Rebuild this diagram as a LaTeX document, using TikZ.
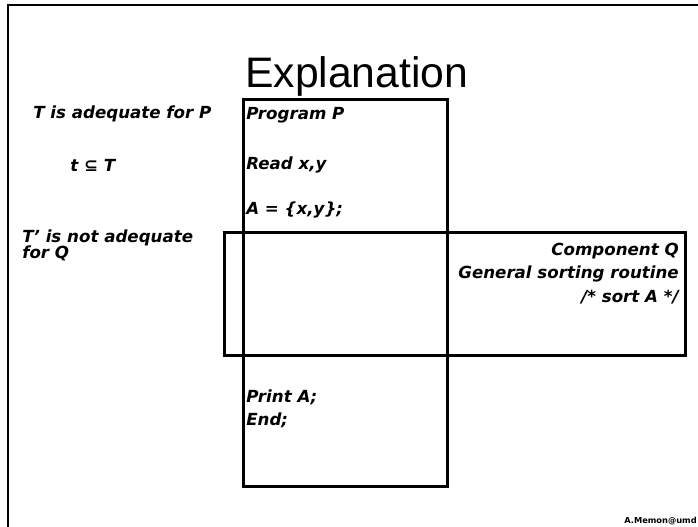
\documentclass[tikz,border=0pt]{standalone}
\usepackage{fontspec}
\setmainfont{Liberation Sans}
\newfontfamily\comicfont{DejaVu Sans}
\begin{document}
\begin{tikzpicture}[x=0.75pt,y=-0.75pt,
  boxstyle/.style={draw=black,line width=2.25pt,inner sep=0pt,outer sep=0pt},
  body/.style={inner sep=0pt,font=\comicfont\bfseries\itshape\fontsize{12.5}{15}\selectfont},
  titlestyle/.style={inner sep=0pt,font=\fontsize{32}{38}\selectfont}]
\useasboundingbox (0,0) rectangle (698,526);
% outer frame (cropped slide border)
\coordinate (frameTL) at (7.8,5);
\coordinate (frameTR) at (700,5);
\coordinate (frameBL) at (7.8,528);
\draw[line width=1.2pt] (frameTR) -- (frameTL) -- (frameBL);
% title
\node[titlestyle,anchor=base west] (title) at (245,87) {Explanation};
% boxes
\node[boxstyle,minimum width=152.8pt,minimum height=290.6pt] (P) at (345.5,292.75) {};
\node[boxstyle,minimum width=345.75pt,minimum height=92.5pt] (Q) at (454.5,294.15) {};
% left texts
\node[body,anchor=base west] (adeq) at (33,118) {T is adequate for P};
\node[body,anchor=base west] (subset) at (70,171) {t \comicfont\bfseries\upshape ⊆\itshape{} T};
\node[body,anchor=base west] (notadeq) at (22,242) {T’ is not adequate};
\node[body,anchor=base west] (forQ) at (22,258) {for Q};
% program P texts
\node[body,anchor=base west] (prog) at (246,119) {Program P};
\node[body,anchor=base west] (read) at (246,169) {Read x,y};
\node[body,anchor=base west] (assign) at (246,214) {A = \{x,y\};};
\node[body,anchor=base west] (print) at (246,402) {Print A;};
\node[body,anchor=base west] (endl) at (246,425) {End;};
% component Q texts
\node[body,anchor=base east] (comp) at (679,255) {Component Q};
\node[body,anchor=base east] (gen) at (679,278) {General sorting routine};
\node[body,anchor=base east] (sortA) at (679,302) {/* sort A */};
% footer
\node[inner sep=0pt,anchor=base east,font=\comicfont\bfseries\fontsize{6.2}{7}\selectfont] (footer) at (697,523) {A.Memon@umd};
\end{tikzpicture}
\end{document}
